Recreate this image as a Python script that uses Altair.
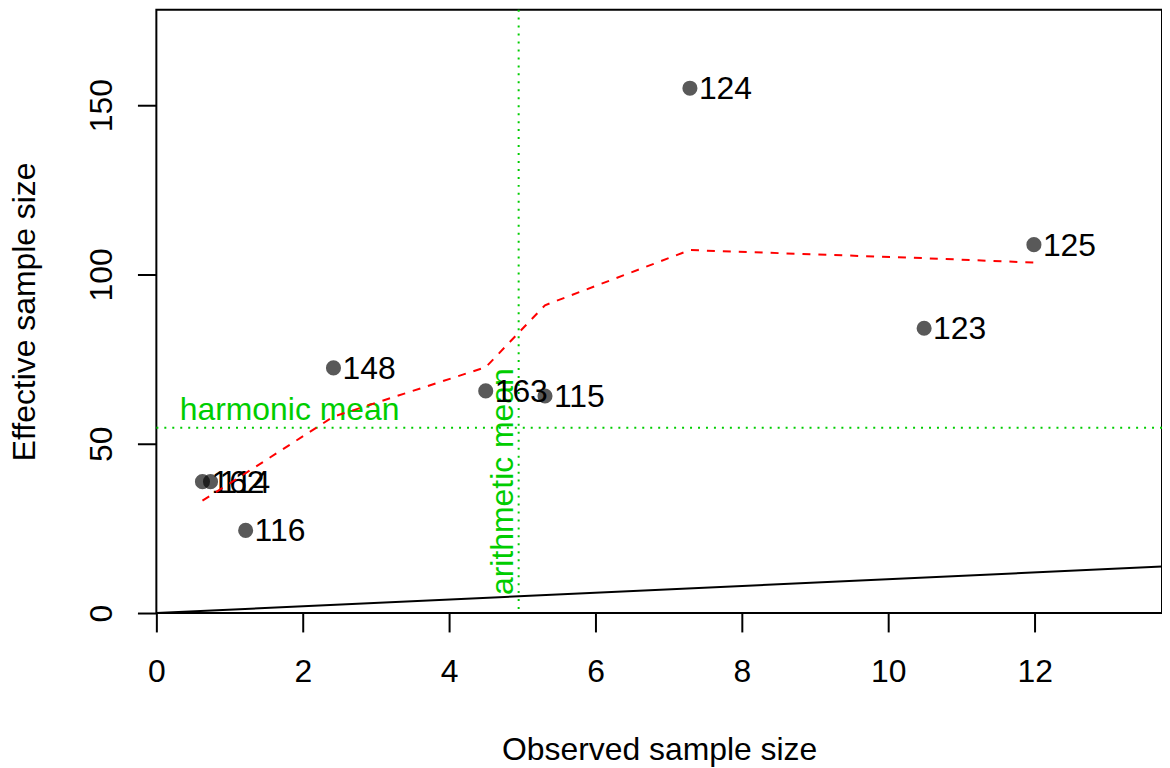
import altair as alt
import pandas as pd

# ---- data ----
obs = [0.63, 0.74, 1.22, 2.42, 4.50, 5.31, 7.29, 10.49, 11.99]
eff = [38.8, 38.8, 24.4, 72.4, 65.6, 64.1, 155.0, 84.1, 108.8]
ids = ["162", "114", "116", "148", "163", "115", "124", "123", "125"]
smooth_y = [33.2, 34.7, 41.3, 58.0, 72.6, 90.9, 107.2, 104.8, 103.5]
harmonic_mean = [54.7]
arithmetic_mean = [4.95]
hm_label_x = [1.82]
am_label_y = [38.8]
x_ticks = [0, 2, 4, 6, 8, 10, 12]
y_ticks = [0, 50, 100, 150]
x_domain = [0, 13.74]
y_domain = [0, 178.2]

FONT = "Liberation Sans"
GREEN = "#00CD00"

pts = pd.DataFrame({"x": obs, "y": eff, "id": ids})
smooth = pd.DataFrame({"x": obs, "y": smooth_y})
ident = pd.DataFrame({"x": x_domain, "y": x_domain})
hm = pd.DataFrame({"y": harmonic_mean, "x": hm_label_x, "t": ["harmonic mean"]})
am = pd.DataFrame({"x": arithmetic_mean, "y": am_label_y, "t": ["arithmetic mean"]})

X = alt.X(
    "x:Q",
    scale=alt.Scale(domain=x_domain, nice=False, zero=False),
    axis=alt.Axis(
        values=x_ticks, title="Observed sample size", grid=False, domain=False,
        tickSize=19, tickWidth=2, tickColor="black",
        labelFont=FONT, labelFontSize=32, labelColor="black", labelPadding=50,
        labelBaseline="alphabetic", labelAlign="center", labelFlush=False, labelOverlap=False,
        titleFont=FONT, titleFontSize=32, titleFontWeight="normal", titleColor="black",
        titleX=505, titleY=147, titleBaseline="alphabetic", titleAlign="center",
    ),
)
Y = alt.Y(
    "y:Q",
    scale=alt.Scale(domain=y_domain, nice=False, zero=False),
    axis=alt.Axis(
        values=y_ticks, title="Effective sample size", grid=False, domain=False,
        tickSize=19, tickWidth=2, tickColor="black",
        labelFont=FONT, labelFontSize=32, labelColor="black", labelPadding=26,
        labelAngle=270, labelBaseline="alphabetic", labelAlign="center",
        labelFlush=False, labelOverlap=False,
        titleFont=FONT, titleFontSize=32, titleFontWeight="normal", titleColor="black",
        titleX=-122, titleY=303, titleAngle=270, titleBaseline="alphabetic", titleAlign="center",
    ),
)

hrule = alt.Chart(hm).mark_rule(color=GREEN, strokeWidth=2, strokeDash=[2, 6]).encode(y=Y)
vrule = alt.Chart(am).mark_rule(color=GREEN, strokeWidth=2, strokeDash=[2, 6]).encode(x=X)
hm_text = alt.Chart(hm).mark_text(
    font=FONT, fontSize=32, color=GREEN, align="center", baseline="alphabetic", dy=-8
).encode(x=X, y=Y, text="t:N")
am_text = alt.Chart(am).mark_text(
    font=FONT, fontSize=32, color=GREEN, align="center", baseline="alphabetic", angle=270, dy=-6
).encode(x=X, y=Y, text="t:N")
ident_line = alt.Chart(ident).mark_line(color="black", strokeWidth=2, clip=True).encode(x=X, y=Y)
points = alt.Chart(pts).mark_circle(size=230, color="black", opacity=0.65).encode(x=X, y=Y)
labels = alt.Chart(pts).mark_text(
    font=FONT, fontSize=32, color="black", align="left", baseline="middle", dx=9, dy=1
).encode(x=X, y=Y, text="id:N")
smooth_line = alt.Chart(smooth).mark_line(color="#FF0000", strokeWidth=2, strokeDash=[8, 8]).encode(x=X, y=Y)

chart = alt.layer(
    hrule, vrule, hm_text, am_text, ident_line, points, labels, smooth_line
).properties(
    width=1010, height=606,
    autosize=alt.AutoSizeParams(type="none"),
    padding={"left": 149, "top": 0, "right": 0, "bottom": 154},
).configure(
    background="white",
    view=alt.ViewConfig(stroke="black", strokeWidth=2),
)

chart.save("out.html", embed_options={"renderer": "svg", "actions": False})
